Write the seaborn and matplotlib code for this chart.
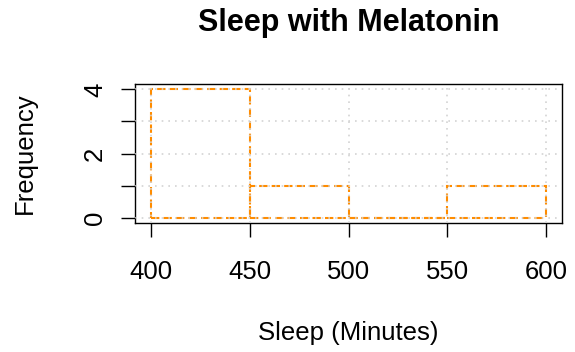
import numpy as np
import pandas as pd
from matplotlib import pyplot as plt
import seaborn as sns

# minutes of sleep with melatonin (4 in 400-450, 1 in 450-500, 1 in 550-600)
sleep = [410, 425, 432, 445, 470, 580]
bins = [400, 450, 500, 550, 600]
xticks = [400, 450, 500, 550, 600]
yticks = [0, 1, 2, 3, 4]
ylabels = ['0', '', '2', '', '4']

sns.set_theme(style="white")
plt.rcParams['font.family'] = ['Liberation Sans', 'DejaVu Sans']
plt.rcParams['text.color'] = 'black'
plt.rcParams['axes.labelcolor'] = 'black'

df = pd.DataFrame({"sleep": sleep})

fig = plt.figure(figsize=(5.75, 3.52), dpi=100)
ax = fig.add_axes([0.2348, 0.3673, 0.7426, 0.3932])

sns.histplot(data=df, x="sleep", bins=bins, fill=False, ax=ax,
             color='#FF8C00', linestyle=(0, (4, 2)), linewidth=1.5)

ax.set_xlim(392, 608)
ax.set_ylim(-0.16, 4.16)
ax.set_xticks(xticks)
ax.set_yticks(yticks)
ax.set_yticklabels(ylabels, rotation=90, va='center')
ax.tick_params(axis='both', direction='out', length=10, width=1, color='black',
               labelsize=18.5, labelcolor='black', bottom=True, left=True)
ax.tick_params(axis='x', pad=17)
ax.tick_params(axis='y', pad=10)

ax.grid(True, color='#D3D3D3', linestyle=(0, (1, 3)), linewidth=1.2)
ax.set_axisbelow(False)

for s in ax.spines.values():
    s.set_color('black')
    s.set_linewidth(1)

ax.set_xlabel("Sleep (Minutes)", fontsize=18.5, va='center')
ax.xaxis.set_label_coords(0.5, -0.797)
ax.set_ylabel("Frequency", fontsize=18.5, va='center')
ax.yaxis.set_label_coords(-0.2576, 0.5)
ax.set_title("Sleep with Melatonin", fontsize=22, fontweight='bold',
             y=1.44, va='center', pad=0)

plt.savefig("out.png", dpi=100)
